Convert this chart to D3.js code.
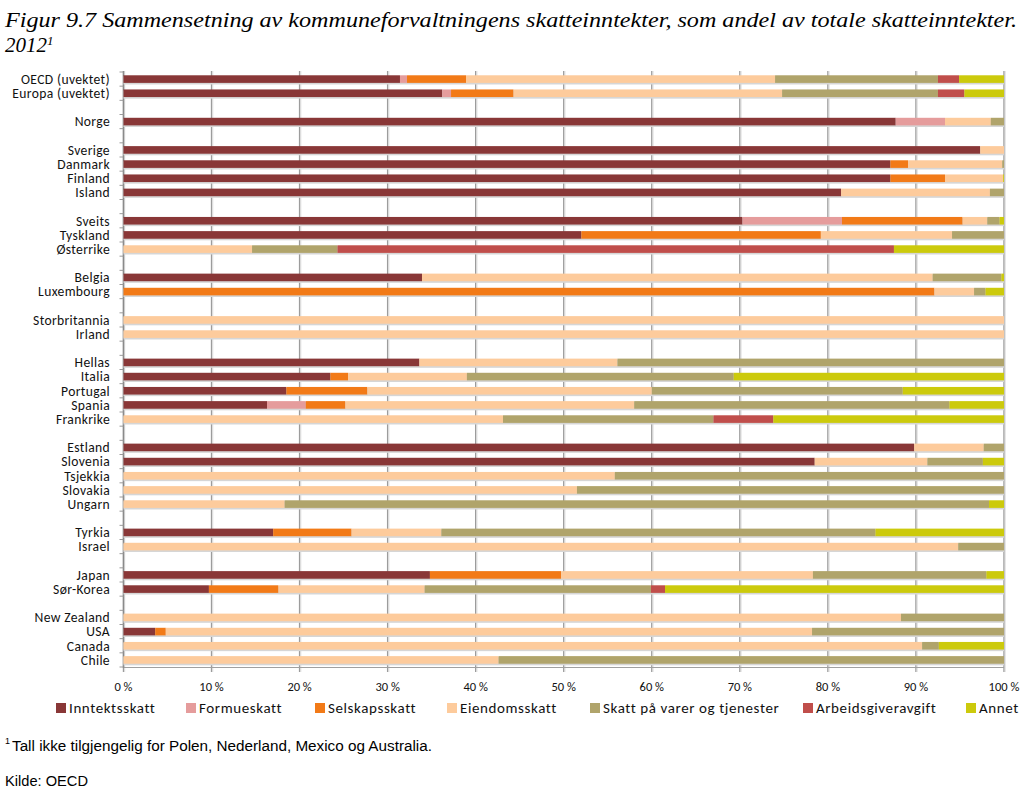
<!DOCTYPE html>
<html>
<head>
<meta charset="utf-8">
<script src="https://cdn.jsdelivr.net/npm/d3@7"></script>
<style>
  html, body { margin: 0; padding: 0; background: #fff; }
  svg { display: block; }
</style>
</head>
<body>
<svg id="chart" width="1030" height="797"></svg>
<script>
// ---------- DATA ----------
const categories = ["OECD (uvektet)","Europa (uvektet)","","Norge","","Sverige","Danmark","Finland","Island","",
  "Sveits","Tyskland","Østerrike","","Belgia","Luxembourg","","Storbritannia","Irland","",
  "Hellas","Italia","Portugal","Spania","Frankrike","","Estland","Slovenia","Tsjekkia","Slovakia","Ungarn","",
  "Tyrkia","Israel","","Japan","Sør-Korea","","New Zealand","USA","Canada","Chile"];

const seriesNames = ["Inntektsskatt","Formueskatt","Selskapsskatt","Eiendomsskatt","Skatt på varer og tjenester","Arbeidsgiveravgift","Annet"];

const inntektsskatt = [31.4,36.2,null,87.7,null,97.3,87.1,87.1,81.5,null,70.3,52.0,0,null,33.9,0,null,0,0,null,33.6,23.5,18.5,16.3,0,null,89.8,78.5,0,0,0,null,17.0,0,null,34.8,9.7,null,0,3.6,0,0];
const formueskatt   = [0.8,1.0,null,5.6,null,0,0,0,0,null,11.3,0,0,null,0,0,null,0,0,null,0,0,0,4.4,0,null,0,0,0,0,0,null,0,0,null,0,0,null,0,0,0,0];
const selskapsskatt = [6.7,7.1,null,0,null,0,2.0,6.2,0,null,13.7,27.2,0,null,0,92.1,null,0,0,null,0,2.0,9.2,4.5,0,null,0,0,0,0,0,null,8.9,0,null,14.9,7.9,null,0,1.2,0,0];
const eiendomsskatt = [35.1,30.5,null,5.2,null,2.7,10.7,6.6,16.9,null,2.8,14.9,14.6,null,58.0,4.5,null,100,100,null,22.5,13.5,32.3,32.8,43.1,null,7.9,12.8,55.8,51.5,18.3,null,10.2,94.8,null,28.6,16.6,null,88.3,73.4,90.7,42.6];
const skattVarer    = [18.5,17.7,null,1.5,null,0,0.2,0,1.6,null,1.4,5.9,9.7,null,7.8,1.3,null,0,0,null,43.9,30.3,28.5,35.8,23.9,null,2.3,6.3,44.2,48.5,80.0,null,49.3,5.2,null,19.7,25.7,null,11.7,21.8,1.9,57.4];
const arbeidsgiveravgift = [2.4,3.0,null,0,null,0,0,0,0,null,0,0,63.2,null,0,0,null,0,0,null,0,0,0,0,6.8,null,0,0,0,0,0,null,0,0,null,0,1.6,null,0,0,0,0];
const annet         = [5.1,4.5,null,0,null,0,0,0.1,0,null,0.5,0,12.5,null,0.3,2.1,null,0,0,null,0,30.7,11.5,6.2,26.2,null,0,2.4,0,0,1.7,null,14.6,0,null,2.0,38.5,null,0,0,7.4,0];

const xTicks = [0,10,20,30,40,50,60,70,80,90,100];
const colors = ["#893737","#E59C9C","#F27A17","#FDCB9C","#B0A46B","#C04E4B","#CCCA0C"];

const titleLine1 = "Figur 9.7 Sammensetning av kommuneforvaltningens skatteinntekter, som andel av totale skatteinntekter.";
const titleLine2 = "2012";
const footnote = "Tall ikke tilgjengelig for Polen, Nederland, Mexico og Australia.";
const source = "Kilde: OECD";

// ---------- BUILD ----------
const seriesArrays = [inntektsskatt, formueskatt, selskapsskatt, eiendomsskatt, skattVarer, arbeidsgiveravgift, annet];
const rows = categories.map((c, i) => {
  const r = { idx: i, name: c, blank: c === "" };
  seriesNames.forEach((s, k) => { r[s] = seriesArrays[k][i] || 0; });
  return r;
});

const svg = d3.select("#chart");
const labelFont = "Carlito, Lato, 'Open Sans', sans-serif";

const x = d3.scaleLinear().domain([0, 100]).range([123.5, 1004]);
const y = d3.scaleBand().domain(d3.range(categories.length)).range([72, 667]).paddingInner(0).paddingOuter(0);
const barH = 7.6;

// Title
svg.append("text").attr("x", 5).attr("y", 27)
  .attr("font-family", "'Liberation Serif', 'DejaVu Serif', serif")
  .attr("font-style", "italic").attr("font-size", 21).attr("fill", "#000")
  .attr("textLength", 1012).attr("lengthAdjust", "spacingAndGlyphs")
  .text(titleLine1);
const t2 = svg.append("text").attr("x", 5).attr("y", 52)
  .attr("font-family", "'Liberation Serif', 'DejaVu Serif', serif")
  .attr("font-style", "italic").attr("font-size", 21).attr("fill", "#000");
t2.append("tspan").text(titleLine2);
t2.append("tspan").attr("font-size", 13).attr("dy", -7).text("1");

// Gridlines
const grid = svg.append("g");
grid.selectAll("line.g").data(xTicks).join("line")
  .attr("x1", d => x(d)).attr("x2", d => x(d))
  .attr("y1", 71).attr("y2", 672)
  .attr("stroke", "#9c9c9c").attr("stroke-width", 1.4);
grid.selectAll("line.gs").data(xTicks).join("line")
  .attr("x1", d => x(d) + 1.2).attr("x2", d => x(d) + 1.2)
  .attr("y1", 71).attr("y2", 672)
  .attr("stroke", "#dcdcdc").attr("stroke-width", 1);

// bottom axis line
svg.append("line").attr("x1", x(0)).attr("x2", x(100)).attr("y1", 667.5).attr("y2", 667.5)
  .attr("stroke", "#a0a0a0").attr("stroke-width", 1);

// Left axis with ticks at category boundaries
svg.append("line").attr("x1", x(0)).attr("x2", x(0)).attr("y1", 71).attr("y2", 668)
  .attr("stroke", "#8a8a8a").attr("stroke-width", 1.4);
svg.append("g").selectAll("line").data(d3.range(categories.length + 1)).join("line")
  .attr("x1", x(0) - 4).attr("x2", x(0))
  .attr("y1", d => 72 + d * y.step()).attr("y2", d => 72 + d * y.step())
  .attr("stroke", "#9a9a9a").attr("stroke-width", 1);

// Stacked bars
const stack = d3.stack().keys(seriesNames);
const stacked = stack(rows.filter(r => !r.blank));
const barG = svg.append("g");
// subtle shadow
barG.selectAll("rect.sh").data(rows.filter(r => !r.blank)).join("rect")
  .attr("x", x(0)).attr("width", x(100) - x(0))
  .attr("y", d => y(d.idx) + y.bandwidth() / 2 - barH / 2 + 1)
  .attr("height", barH + 0.6)
  .attr("fill", "#d6d6d6");
stacked.forEach((layer, k) => {
  barG.append("g").attr("fill", colors[k])
    .selectAll("rect").data(layer.filter(d => d[1] - d[0] > 0)).join("rect")
    .attr("x", d => x(d[0]))
    .attr("width", d => x(d[1]) - x(d[0]))
    .attr("y", d => y(d.data.idx) + y.bandwidth() / 2 - barH / 2)
    .attr("height", barH);
});

// Category labels
svg.append("g").selectAll("text").data(rows.filter(r => !r.blank)).join("text")
  .attr("x", 110).attr("y", d => y(d.idx) + y.bandwidth() / 2)
  .attr("dy", "0.35em").attr("text-anchor", "end")
  .attr("font-family", labelFont).attr("font-size", 13.6).attr("letter-spacing", 0.35).attr("fill", "#111")
  .text(d => d.name);

// X tick labels
svg.append("g").selectAll("text").data(xTicks).join("text")
  .attr("x", d => x(d)).attr("y", 687).attr("dy", "0.35em").attr("text-anchor", "middle")
  .attr("font-family", labelFont).attr("font-size", 12.5).attr("fill", "#111")
  .text(d => d + " %");

// Legend
const legendX = [56, 186, 315, 447, 590, 803, 966];
const lg = svg.append("g");
seriesNames.forEach((s, k) => {
  lg.append("rect").attr("x", legendX[k]).attr("y", 703).attr("width", 10).attr("height", 10).attr("fill", colors[k]);
  lg.append("text").attr("x", legendX[k] + 13).attr("y", 708).attr("dy", "0.35em")
    .attr("font-family", labelFont).attr("font-size", 15).attr("letter-spacing", 0.6).attr("fill", "#111").text(s);
});

// Footnote
svg.append("text").attr("x", 5).attr("y", 744).attr("font-family", "'Liberation Sans', Arial, sans-serif")
  .attr("font-size", 9).attr("fill", "#000").text("1");
svg.append("text").attr("x", 12).attr("y", 751).attr("font-family", "'Liberation Sans', Arial, sans-serif")
  .attr("font-size", 14).attr("fill", "#000")
  .attr("textLength", 420).attr("lengthAdjust", "spacingAndGlyphs").text(footnote);
svg.append("text").attr("x", 5).attr("y", 786).attr("font-family", "'Liberation Sans', Arial, sans-serif")
  .attr("font-size", 14).attr("fill", "#000")
  .attr("textLength", 83).attr("lengthAdjust", "spacingAndGlyphs").text(source);
</script>
</body>
</html>
